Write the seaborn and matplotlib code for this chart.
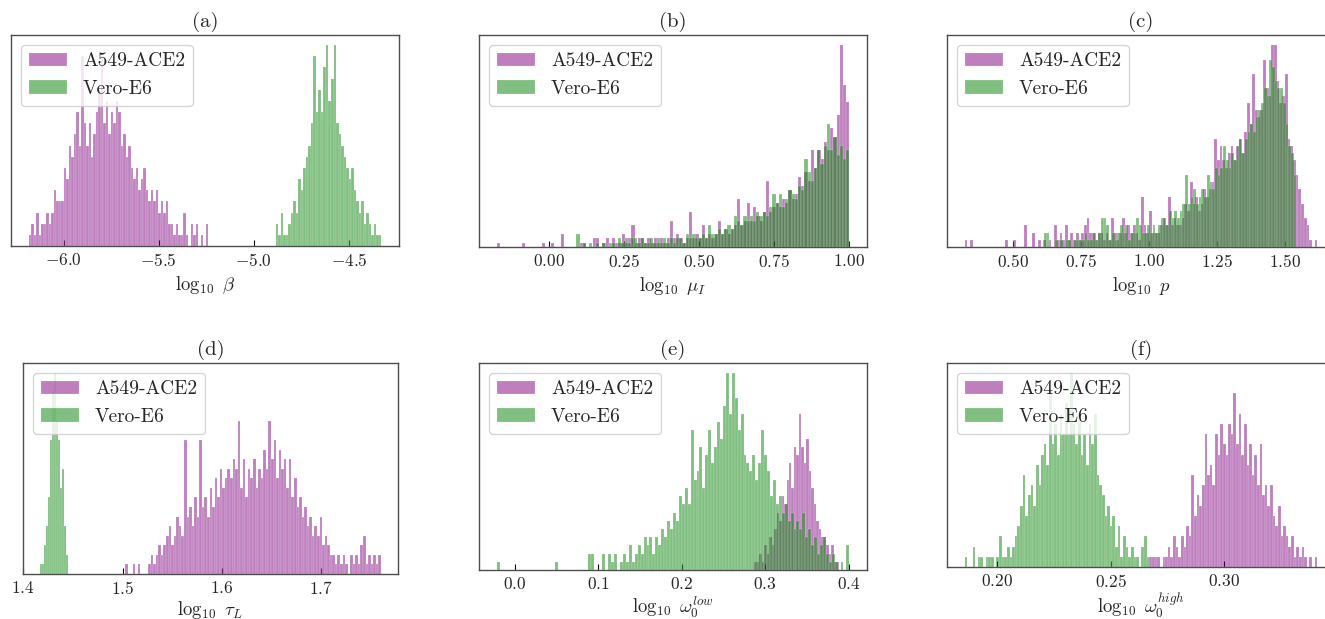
import numpy as np
import pandas as pd
import matplotlib
matplotlib.use("Agg")
import matplotlib.pyplot as plt
import seaborn as sns

# ---- data: bin ranges and bin heights ----
labels = ["A549-ACE2", "Vero-E6"]
colors = ["purple", "green"]
panel_titles = ["(a)", "(b)", "(c)", "(d)", "(e)", "(f)"]
xlabels = [r"$\log_{10}\ \beta$", r"$\log_{10}\ \mu_I$", r"$\log_{10}\ p$",
           r"$\log_{10}\ \tau_L$", r"$\log_{10}\ \omega_0^{low}$", r"$\log_{10}\ \omega_0^{high}$"]
xticks = [[-6.0, -5.5, -5.0, -4.5],
          [0.0, 0.25, 0.5, 0.75, 1.0],
          [0.5, 0.75, 1.0, 1.25, 1.5],
          [1.4, 1.5, 1.6, 1.7],
          [0.0, 0.1, 0.2, 0.3, 0.4],
          [0.20, 0.25, 0.30]]

# (a) log10 beta
a_purple_range = (-6.184, -5.240)
a_purple = [1, 2, 1, 3, 1, 2, 2, 3, 2, 3, 5, 4, 4, 4, 7, 6, 9, 8, 10, 12,
            9, 17, 11, 9, 11, 8, 10, 12, 14, 17, 11, 13, 10, 12, 11, 13, 12, 9, 10, 8,
            9, 7, 6, 7, 5, 6, 7, 5, 4, 5, 4, 5, 3, 4, 3, 4, 2, 2, 1, 2,
            1, 1, 3, 1, 0, 2, 1, 2, 0, 1, 0, 2]
a_green_range = (-4.886, -4.330)
a_green = [2, 1, 3, 1, 1, 2, 3, 4, 3, 6, 5, 7, 8, 9, 11, 17, 12, 14, 12, 16,
           18, 13, 15, 18, 11, 10, 9, 8, 7, 6, 7, 5, 4, 3, 4, 2, 3, 2, 1, 2,
           1, 1]

# (b) log10 mu_I
b_purple_range = (-0.176, 1.000)
b_purple = [1, 0, 0, 0, 0, 0, 0, 0, 1, 0, 0, 0, 0, 0, 1, 0, 0, 1, 0, 0,
            3, 0, 0, 0, 0, 0, 1, 1, 0, 0, 2, 2, 0, 1, 2, 0, 2, 1, 1, 3,
            1, 2, 5, 1, 2, 2, 1, 2, 1, 2, 1, 2, 1, 2, 6, 2, 3, 2, 1, 2,
            8, 2, 3, 2, 5, 2, 3, 2, 3, 6, 3, 4, 3, 4, 5, 11, 5, 6, 10, 6,
            9, 7, 6, 8, 15, 8, 9, 10, 9, 11, 10, 13, 11, 12, 16, 14, 17, 15, 22, 18,
            22, 20, 24, 22, 27, 25, 30, 46, 37, 33]
b_green_range = (0.090, 1.000)
b_green = [3, 0, 1, 0, 1, 0, 1, 0, 1, 0, 1, 1, 0, 2, 1, 2, 1, 2, 2, 1,
           2, 1, 1, 2, 1, 2, 1, 2, 1, 2, 1, 2, 2, 1, 3, 2, 3, 2, 2, 3,
           2, 5, 3, 3, 4, 3, 4, 5, 4, 7, 6, 5, 7, 6, 7, 6, 8, 7, 8, 7,
           9, 12, 10, 12, 9, 11, 13, 12, 11, 14, 13, 20, 17, 15, 18, 22, 19, 23, 28, 22,
           25, 21, 23, 20, 22]

# (c) log10 p
c_purple_range = (0.321, 1.620)
c_purple = [1, 0, 1, 0, 0, 0, 0, 0, 0, 0, 0, 0, 0, 0, 0, 1, 0, 0, 1, 0,
            0, 0, 3, 0, 0, 2, 0, 1, 0, 1, 0, 1, 0, 3, 1, 2, 1, 3, 1, 2,
            1, 2, 1, 2, 3, 4, 2, 2, 1, 2, 2, 1, 2, 1, 4, 2, 1, 2, 4, 2,
            3, 2, 3, 2, 1, 7, 3, 2, 5, 2, 2, 2, 3, 4, 3, 7, 3, 4, 3, 3,
            4, 6, 5, 9, 6, 7, 5, 6, 8, 7, 8, 9, 15, 12, 14, 12, 11, 13, 14, 12,
            14, 15, 13, 16, 20, 17, 24, 19, 18, 19, 26, 22, 21, 28, 28, 23, 20, 21, 24, 15,
            14, 12, 10, 8, 6, 4, 3, 1, 0, 1]
c_green_range = (0.613, 1.543)
c_green = [2, 2, 0, 0, 1, 0, 1, 0, 1, 1, 0, 1, 1, 1, 1, 2, 1, 1, 2, 1,
           2, 4, 4, 3, 1, 2, 1, 2, 3, 2, 3, 1, 2, 2, 4, 3, 2, 2, 3, 2,
           3, 2, 3, 4, 4, 3, 5, 4, 5, 4, 5, 6, 10, 6, 7, 8, 6, 7, 8, 7,
           10, 9, 8, 11, 10, 11, 14, 12, 11, 13, 12, 14, 15, 13, 15, 16, 17, 16, 18, 19,
           20, 22, 21, 26, 25, 23, 22, 22, 20, 17, 14, 13, 10]

# (d) log10 tau_L
d_purple_range = (1.5026, 1.7600)
d_purple = [1, 0, 0, 1, 0, 1, 0, 0, 0, 1, 2, 1, 2, 3, 2, 3, 4, 5, 3, 4,
            6, 5, 4, 14, 6, 7, 5, 8, 6, 14, 7, 8, 6, 9, 7, 10, 8, 11, 9, 10,
            11, 10, 12, 11, 16, 9, 12, 8, 11, 10, 12, 9, 11, 10, 13, 11, 16, 12, 14, 10,
            13, 11, 12, 9, 12, 8, 10, 7, 8, 6, 7, 5, 6, 4, 5, 4, 6, 3, 4, 3,
            2, 2, 1, 2, 1, 2, 1, 0, 2, 1, 2, 1, 3, 4, 1, 2, 1, 2, 1, 2]
d_green_range = (1.417, 1.445)
d_green = [1, 1, 3, 5, 8, 14, 19, 21, 16, 14, 9, 11, 5, 2]

# (e) log10 omega_0^low
e_purple_range = (0.287, 0.388)
e_purple = [1, 1, 2, 1, 3, 2, 4, 3, 5, 7, 6, 9, 8, 11, 13, 10, 15, 14, 19, 15,
            13, 16, 12, 10, 8, 6, 5, 4, 4, 3, 2, 3, 1, 1]
e_green_range = (-0.022, 0.401)
e_green = [1, 0, 0, 0, 0, 0, 0, 0, 0, 0, 0, 0, 0, 0, 0, 0, 0, 0, 0, 0,
           1, 0, 0, 0, 0, 0, 0, 0, 0, 0, 0, 2, 2, 0, 0, 0, 2, 0, 2, 1,
           2, 0, 1, 2, 1, 3, 1, 2, 3, 2, 4, 3, 4, 2, 4, 3, 5, 4, 6, 5,
           7, 6, 9, 8, 10, 8, 17, 11, 12, 15, 10, 14, 17, 13, 15, 18, 16, 20, 24, 19,
           24, 21, 17, 19, 14, 13, 12, 14, 11, 13, 17, 14, 12, 9, 11, 8, 9, 7, 8, 6,
           7, 5, 6, 5, 7, 4, 5, 3, 4, 2, 3, 4, 2, 1, 2, 1, 0, 1, 0, 3]

# (f) log10 omega_0^high
f_purple_range = (0.267, 0.341)
f_purple = [1, 1, 1, 1, 0, 1, 1, 2, 1, 3, 2, 1, 3, 2, 4, 3, 9, 5, 7, 6,
            8, 13, 9, 10, 8, 13, 11, 14, 12, 11, 14, 13, 17, 12, 15, 11, 14, 10, 12, 9,
            11, 8, 12, 7, 8, 6, 8, 5, 4, 6, 3, 4, 3, 2, 3, 1, 2, 1, 2, 1,
            0, 1, 0, 1]
f_green_range = (0.1856, 0.2670)
f_green = [1, 0, 0, 2, 0, 1, 1, 0, 1, 1, 1, 0, 1, 3, 1, 1, 2, 1, 2, 3,
           4, 6, 9, 5, 7, 8, 6, 10, 8, 11, 12, 10, 17, 12, 14, 11, 15, 13, 16, 13,
           19, 14, 12, 15, 11, 13, 10, 14, 12, 15, 9, 8, 7, 5, 6, 4, 5, 2, 4, 1,
           3, 2, 1, 2, 1, 1, 0, 2, 3, 1]

panels = [
    [(a_purple_range, a_purple), (a_green_range, a_green)],
    [(b_purple_range, b_purple), (b_green_range, b_green)],
    [(c_purple_range, c_purple), (c_green_range, c_green)],
    [(d_purple_range, d_purple), (d_green_range, d_green)],
    [(e_purple_range, e_purple), (e_green_range, e_green)],
    [(f_purple_range, f_purple), (f_green_range, f_green)],
]

# ---- style ----
sns.set_style("white")
plt.rcParams["font.family"] = ["cmr10"]
plt.rcParams["mathtext.fontset"] = "cm"
plt.rcParams["axes.formatter.use_mathtext"] = True

fig = plt.figure(figsize=(13.25, 6.19), dpi=100)
W, H = 1325, 619
# axes boxes in pixels: left, top, right, bottom
boxes = [(11, 35, 399, 246), (479, 35, 867, 247), (947, 35, 1335, 247),
         (23, 363, 398, 574), (479, 363, 867, 570), (947, 363, 1335, 567)]

for k, (box, series) in enumerate(zip(boxes, panels)):
    L, T, R, B = box
    ax = fig.add_axes([L / W, 1 - B / H, (R - L) / W, (B - T) / H])
    for (rng, counts), col, lab in zip(series, colors, labels):
        edges = np.linspace(rng[0], rng[1], len(counts) + 1)
        df = pd.DataFrame({"x": 0.5 * (edges[:-1] + edges[1:]),
                           "w": np.asarray(counts, dtype=float)})
        sns.histplot(data=df, x="x", weights="w", bins=list(edges), color=col,
                     alpha=0.5, edgecolor=(1, 1, 1, 0.6), linewidth=0.2,
                     label=lab, ax=ax)
    lo = min(s[0][0] for s in series)
    hi = max(s[0][1] for s in series)
    span = hi - lo
    ax.set_xlim(lo - 0.05 * span, hi + 0.05 * span)
    top = max(max(s[1]) for s in series)
    ax.set_ylim(0, top * 1.05)
    ax.set_xticks(xticks[k])
    ax.set_yticks([])
    ax.set_ylabel("")
    ax.set_xlabel(xlabels[k], fontsize=13.5, labelpad=2 if k >= 3 else 4)
    ax.set_title(panel_titles[k], fontsize=15)
    ax.tick_params(axis="x", bottom=True, direction="in", length=4, width=0.8,
                   color="black", labelsize=12.5, pad=4)
    for sp in ax.spines.values():
        sp.set_color("0.3")
        sp.set_linewidth(1.0)
    ax.legend(loc="upper left", fontsize=14)

fig.savefig("out.png", dpi=100)
